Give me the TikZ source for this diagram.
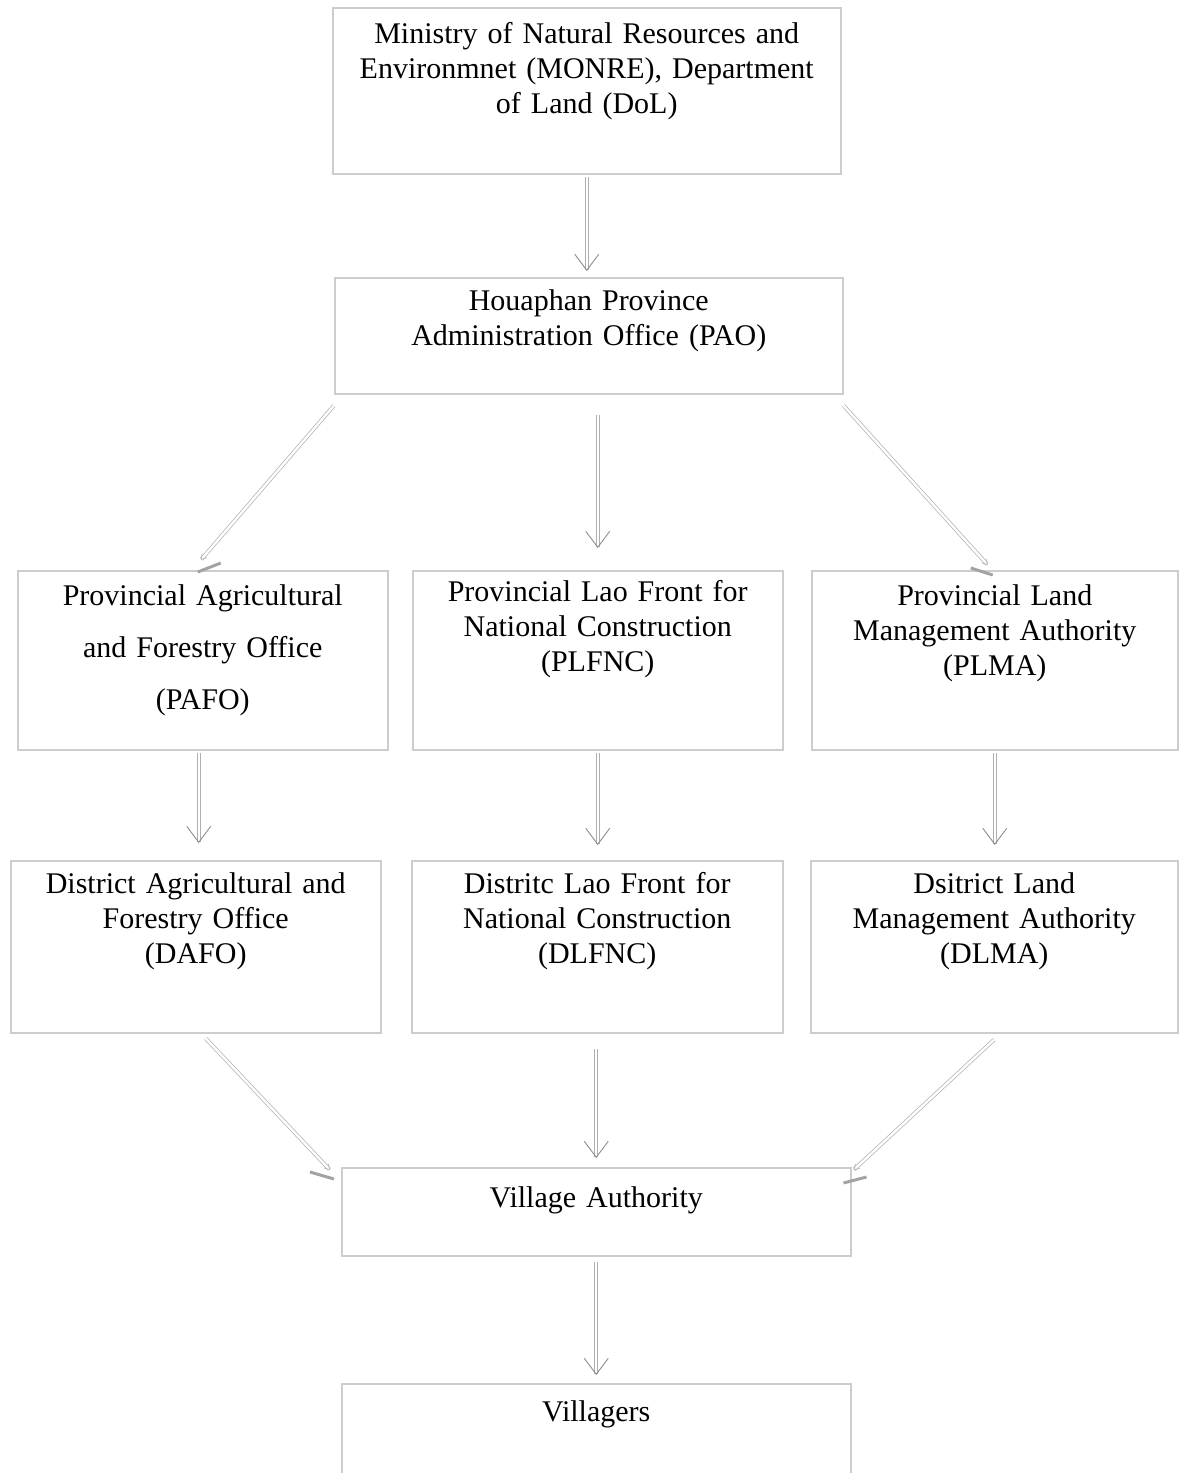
\documentclass[tikz,border=0pt]{standalone}
\usepackage{fontspec}
\setmainfont{Liberation Serif}[WordSpace=0.8]
\usetikzlibrary{arrows.meta, positioning, calc}
\definecolor{boxgray}{RGB}{205,205,205}
\definecolor{linkgray}{RGB}{175,175,175}
\definecolor{tipgray}{RGB}{140,140,140}

\tikzset{
  box/.style={draw=boxgray, line width=1.5pt, rectangle, anchor=north west,
    inner xsep=0pt, inner ysep=12pt, align=center,
    font=\fontsize{30}{35}\selectfont},
  link/.style={draw=linkgray, line width=0.7pt, double=white, double distance=2.4pt,
    -{Straight Barb[length=16pt,width=24pt,line width=0.9pt,color=tipgray]}},
  slantlink/.style={draw=linkgray, line width=0.7pt, double=white, double distance=2.4pt,
    -{Straight Barb[length=5pt,width=6pt,line width=0.6pt,color=linkgray]}},
  tick/.style={draw=tipgray!80, line width=3pt},
}

\begin{document}
\begin{tikzpicture}[x=1pt, y=-1pt]
    \useasboundingbox (0,0) rectangle (1179,1473);

    % ministry and province
    \node[box, text width=508pt, text height=24pt, text depth=118pt] (monre) at (332,7)
        {Ministry of Natural Resources and\\Environmnet (MONRE), Department\\of Land (DoL)};
    \node[box, text width=508pt, text height=21pt, text depth=71pt] (pao) at (334,277)
        {Houaphan Province\\Administration Office (PAO)};

    % provincial offices
    \node[box, text width=370pt, text height=23pt, text depth=132pt,
          font=\fontsize{30}{52}\selectfont] (pafo) at (17,570)
        {Provincial Agricultural\\and Forestry Office\\(PAFO)};
    \node[box, text width=370pt, text height=19pt, text depth=136pt] (plfnc) at (412,570)
        {Provincial Lao Front for\\National Construction\\(PLFNC)};
    \node[box, text width=366pt, text height=23pt, text depth=132pt] (plma) at (811,570)
        {Provincial Land\\Management Authority\\(PLMA)};

    % district offices
    \node[box, text width=370pt, text height=21pt, text depth=127pt] (dafo) at (10,860)
        {District Agricultural and\\Forestry Office\\(DAFO)};
    \node[box, text width=371pt, text height=21pt, text depth=127pt] (dlfnc) at (411,860)
        {Distritc Lao Front for\\National Construction\\(DLFNC)};
    \node[box, text width=367pt, text height=21pt, text depth=127pt] (dlma) at (810,860)
        {Dsitrict Land\\Management Authority\\(DLMA)};

    % village level
    \node[box, text width=509pt, text height=28pt, text depth=36pt] (va) at (341,1167)
        {Village Authority};
    \node[box, text width=509pt, text height=26pt, text depth=64pt] (villagers) at (341,1383)
        {Villagers};

    % connectors
    \draw[link, shorten <=2pt, shorten >=6pt] (monre.south) -- (monre.south |- pao.north);
    \draw[slantlink] ([yshift=-11pt]pao.south west) -- ([xshift=-2pt,yshift=10pt]pafo.north);
    \draw[link, shorten <=20pt, shorten >=22pt] (pao.south -| plfnc.north) -- (plfnc.north);
    \draw[slantlink] ([yshift=-11pt]pao.south east) -- ([xshift=-7pt,yshift=5pt]plma.north);

    \draw[link, shorten <=2pt, shorten >=17pt] ([xshift=-4pt]pafo.south) -- ([xshift=-4pt]pafo.south |- dafo.north);
    \draw[link, shorten <=2pt, shorten >=15pt] (plfnc.south) -- (plfnc.south |- dlfnc.north);
    \draw[link, shorten <=2pt, shorten >=15pt] (plma.south) -- (plma.south |- dlma.north);

    \draw[slantlink] ([xshift=10pt,yshift=-5pt]dafo.south) -- ([xshift=-11pt,yshift=-3pt]va.north west);
    \draw[link, shorten <=15pt, shorten >=9pt] (dlfnc.south -| va.north) -- (va.north);
    \draw[slantlink] ([yshift=-6pt]dlma.south) -- ([xshift=2pt,yshift=-3pt]va.north east);

    \draw[link, shorten <=5pt, shorten >=8pt] (va.south) -- (villagers.north);

    % grey marks at the slanted tips
    \draw[tick] ($(pafo.north)+(-5,2)$) -- ($(pafo.north)+(18,-7)$);
    \draw[tick] ($(plma.north)+(-24,-2)$) -- ($(plma.north)+(-2,5)$);
    \draw[tick] ($(va.north west)+(-31,5)$) -- ($(va.north west)+(-7,12)$);
    \draw[tick] ($(va.north east)+(-8,16)$) -- ($(va.north east)+(15,10)$);
\end{tikzpicture}
\end{document}
